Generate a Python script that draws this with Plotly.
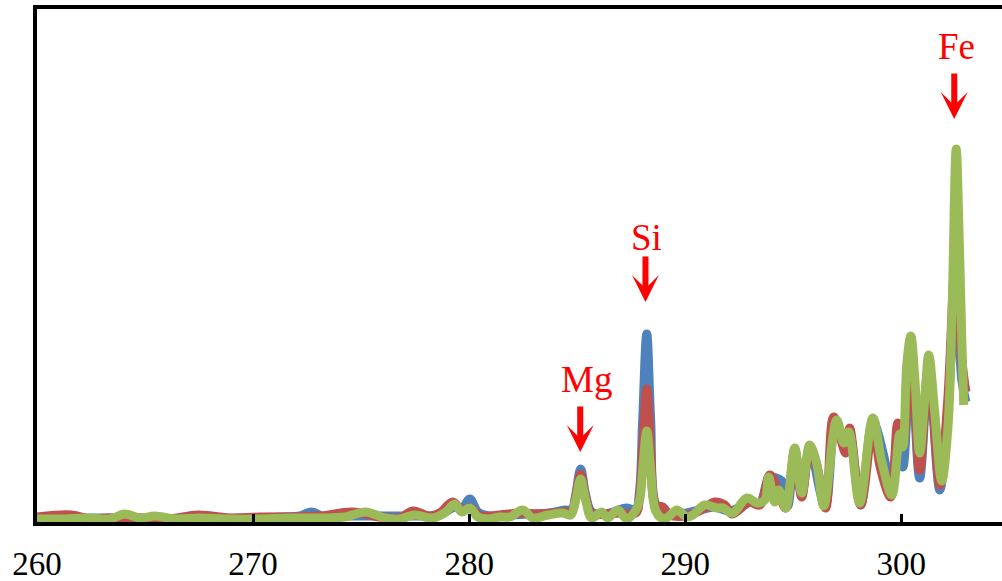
import plotly.graph_objects as go

# ---- data (x = wavelength, y = intensity in arbitrary units) ----
blue_x = [260.00, 262.44, 264.29, 267.53, 269.38, 271.24, 272.16, 272.72, 273.32, 274.47,
          275.86, 277.71, 278.64, 279.33, 279.66, 280.03, 280.40, 280.95, 281.88, 282.81,
          283.73, 284.43, 284.75, 284.93, 285.16, 285.39, 285.67, 286.27, 287.29, 287.71,
          287.89, 288.03, 288.22, 288.40, 288.64, 289.05, 289.75, 290.67, 291.36, 292.06,
          292.75, 292.98, 293.45, 293.91, 294.47, 294.74, 295.07, 295.39, 295.76, 296.31,
          296.50, 296.96, 297.43, 297.61, 298.12, 298.68, 299.23, 299.51, 299.84, 300.07,
          300.44, 300.85, 301.27, 301.78, 302.15, 302.52, 302.80, 302.99]
blue_y = [3, 3, 3, 2, 3, 4, 5, 9, 4, 5,
          5, 5, 6, 14, 12, 22, 9, 5, 6, 7,
          8, 11, 11, 26, 52, 26, 9, 7, 13, 11,
          31, 101, 187, 101, 16, 8, 7, 11, 14, 10,
          17, 19, 18, 43, 40, 15, 69, 26, 73, 24,
          16, 101, 71, 89, 16, 99, 61, 26, 81, 54,
          166, 43, 151, 31, 111, 231, 141, 119]

red_x = [260.00, 261.60, 262.44, 263.37, 264.06, 264.76, 266.15, 267.44, 268.92, 270.31,
         271.70, 273.09, 274.61, 275.86, 276.79, 277.39, 278.18, 278.64, 279.24, 279.66,
         280.07, 280.49, 281.42, 282.34, 283.26, 284.33, 284.75, 284.93, 285.16, 285.39,
         285.67, 286.27, 286.97, 287.71, 287.89, 288.03, 288.22, 288.40, 288.64, 288.96,
         289.29, 290.21, 290.90, 291.36, 291.83, 292.15, 292.75, 292.98, 293.45, 293.91,
         294.28, 294.65, 295.07, 295.39, 295.76, 296.08, 296.50, 296.87, 297.43, 297.61,
         298.12, 298.72, 299.00, 299.51, 299.84, 300.07, 300.44, 300.85, 301.27, 301.78,
         302.15, 302.52, 302.80, 302.99]
red_y = [4, 6, 2, 3, 1, 3, 2, 6, 3, 4,
         4, 5, 9, 4, 3, 10, 5, 8, 19, 11,
         13, 5, 6, 8, 7, 9, 10, 24, 47, 24,
         7, 7, 8, 8, 26, 71, 132, 71, 16, 14,
         6, 6, 13, 19, 16, 7, 16, 19, 16, 46,
         31, 13, 71, 24, 71, 56, 13, 104, 68, 93,
         16, 101, 56, 24, 98, 76, 173, 51, 156, 36,
         121, 266, 161, 129]

green_x = [260.00, 261.05, 262.44, 263.37, 264.06, 264.76, 265.45, 266.38, 267.53, 268.92,
           270.31, 271.70, 273.09, 274.24, 275.22, 276.09, 276.79, 277.48, 278.32, 278.92,
           279.33, 279.66, 280.03, 280.40, 280.86, 281.42, 281.88, 282.48, 282.95, 283.64,
           284.33, 284.70, 284.93, 285.16, 285.39, 285.67, 286.13, 286.41, 286.88, 287.29,
           287.66, 287.89, 288.03, 288.22, 288.40, 288.59, 288.83, 289.14, 289.61, 290.07,
           290.35, 290.90, 291.46, 291.74, 292.20, 292.85, 293.35, 293.68, 293.86, 294.14,
           294.33, 294.65, 295.07, 295.39, 295.76, 296.08, 296.41, 297.01, 297.34, 297.57,
           298.07, 298.68, 299.09, 299.56, 299.93, 300.07, 300.26, 300.44, 300.63, 300.85,
           301.09, 301.27, 301.55, 301.87, 302.15, 302.34, 302.54, 302.68, 302.80, 302.89]
green_y = [2, 2, 3, 2, 7, 3, 5, 2, 3, 2,
           2, 3, 3, 4, 9, 3, 2, 6, 3, 9,
           17, 9, 13, 4, 2, 4, 4, 11, 3, 6,
           8, 6, 21, 42, 21, 3, 9, 3, 11, 2,
           9, 21, 51, 90, 51, 13, 4, 3, 11, 4,
           6, 16, 13, 13, 8, 23, 18, 21, 44, 19,
           31, 13, 73, 28, 76, 58, 15, 101, 78, 89,
           18, 103, 60, 26, 87, 74, 158, 185, 141, 68,
           124, 166, 108, 40, 91, 201, 372, 281, 181, 116]

tick_vals = [260, 270, 280, 290, 300]

labels = ["Mg", "Si", "Fe"]
label_x = [285.43, 288.22, 302.55]
label_y = [142, 284, 475]
arrow_x = [285.14, 288.16, 302.45]
arrow_tip_y = [69, 219, 402]

colors = ["#4F81BD", "#C0504D", "#9BBB59"]

fig = go.Figure()
for xs, ys, c in [(blue_x, blue_y, colors[0]), (red_x, red_y, colors[1]), (green_x, green_y, colors[2])]:
    fig.add_trace(go.Scatter(x=xs, y=ys, mode="lines",
                             line=dict(color=c, width=9, shape="spline", smoothing=1.0),
                             hoverinfo="skip", showlegend=False))

serif = "Liberation Serif, Cambria, Times New Roman, serif"

for t, tx, ty in zip(labels, label_x, label_y):
    fig.add_annotation(x=tx, y=ty, xref="x", yref="y", text=t, showarrow=False,
                       font=dict(family=serif, size=37, color="#FF0000"),
                       xanchor="center", yanchor="middle")
for axx, ay in zip(arrow_x, arrow_tip_y):
    fig.add_annotation(x=axx, y=ay, xref="x", yref="y", text="", showarrow=True,
                       ax=0, ay=-47, axref="pixel", ayref="pixel",
                       arrowhead=3, arrowsize=0.75, arrowwidth=6, arrowcolor="#FF0000",
                       standoff=0)

fig.update_layout(
    width=1002, height=581,
    margin=dict(l=37, r=0, t=9, b=59),
    paper_bgcolor="white", plot_bgcolor="white",
    font=dict(family=serif, color="black"),
    xaxis=dict(range=[260, 304.66], tickvals=tick_vals, ticktext=[str(v) for v in tick_vals],
               showgrid=False, zeroline=False, showline=True, linecolor="black", linewidth=4,
               mirror=True, ticks="inside", ticklen=8, tickwidth=3, tickcolor="black",
               ticklabelstandoff=9,
               tickfont=dict(family=serif, size=33, color="black")),
    yaxis=dict(range=[-1, 512], showgrid=False, zeroline=False, showline=True,
               linecolor="black", linewidth=4, showticklabels=False, ticks=""),
)

fig.write_html("out.html")
